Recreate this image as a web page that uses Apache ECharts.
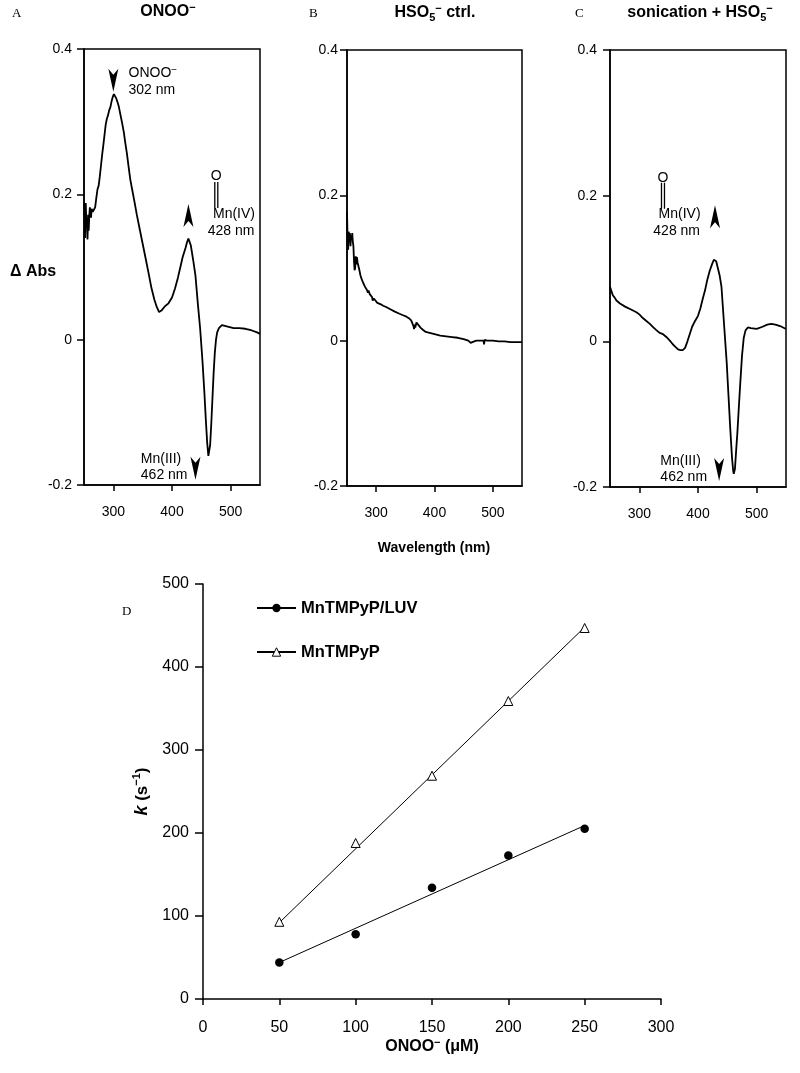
<!DOCTYPE html>
<html><head><meta charset="utf-8">
<script src="https://cdn.jsdelivr.net/npm/echarts@6/dist/echarts.min.js"></script>
<style>html,body{margin:0;padding:0;background:#fff}#c{width:800px;height:1073px}</style>
</head><body><div id="c"></div><script>
const FF = '"Liberation Sans", Arial, Helvetica, sans-serif';
const SERIF = '"Liberation Serif", "Times New Roman", serif';

// Panel A: ONOO- difference spectrum [nm, dAbs]
const specA = [[250,0.19],[251,0.176],[252,0.14],[253,0.188],[254,0.16],[255,0.165],[256,0.138],[257,0.172],[258,0.15],[259,0.17],[260,0.182],[262,0.168],[263,0.18],[265,0.176],[267,0.178],[269,0.182],[271,0.195],[273,0.207],[275,0.212],[277,0.225],[279,0.24],[281,0.255],[283,0.268],[285,0.282],[287,0.296],[289,0.304],[291,0.309],[293,0.316],[295,0.32],[297,0.328],[299,0.334],[301,0.338],[303,0.338],[305,0.332],[307,0.327],[309,0.322],[312,0.31],[315,0.298],[318,0.285],[320,0.273],[323,0.257],[326,0.238],[329,0.22],[332,0.207],[336,0.19],[340,0.172],[345,0.152],[350,0.132],[355,0.112],[360,0.092],[365,0.071],[370,0.055],[374,0.045],[378,0.038],[382,0.04],[388,0.046],[394,0.05],[400,0.058],[405,0.07],[410,0.085],[414,0.099],[418,0.113],[423,0.126],[426,0.135],[428,0.139],[432,0.13],[436,0.11],[440,0.088],[444,0.05],[448,0.015],[452,-0.03],[455,-0.07],[458,-0.115],[460,-0.142],[462,-0.16],[463,-0.162],[465,-0.145],[467,-0.115],[469,-0.08],[471,-0.045],[473,-0.018],[475,0.0],[477,0.01],[480,0.016],[485,0.02],[495,0.018],[505,0.016],[515,0.016],[525,0.015],[535,0.013],[545,0.01],[550,0.008]];

// Panel B: HSO5- control
const specB = [[250,0.177],[251,0.14],[252,0.125],[253,0.15],[254,0.135],[255,0.148],[256,0.13],[257,0.145],[258,0.14],[259,0.148],[260,0.136],[261,0.13],[262,0.11],[263,0.097],[264,0.1],[265,0.116],[266,0.105],[267,0.115],[268,0.108],[269,0.11],[271,0.098],[273,0.09],[275,0.085],[278,0.079],[281,0.074],[284,0.07],[286,0.066],[287,0.069],[289,0.064],[291,0.062],[293,0.06],[294,0.055],[296,0.058],[299,0.055],[302,0.052],[305,0.052],[308,0.05],[312,0.048],[318,0.046],[325,0.043],[332,0.04],[340,0.037],[346,0.035],[352,0.033],[356,0.031],[360,0.028],[362,0.026],[364,0.02],[365,0.016],[366,0.022],[367,0.018],[369,0.025],[372,0.022],[376,0.018],[380,0.015],[385,0.012],[390,0.011],[400,0.009],[410,0.007],[420,0.006],[430,0.005],[440,0.004],[450,0.002],[458,0.0],[462,-0.003],[465,-0.004],[468,-0.001],[472,0.0],[478,0.0],[484,0.0],[485,-0.005],[486,0.001],[490,0.0],[500,0.0],[510,-0.001],[520,-0.001],[530,-0.002],[540,-0.002],[550,-0.002]];

// Panel C: sonication + HSO5-
const specC = [[250,0.075],[252,0.07],[255,0.063],[258,0.06],[261,0.056],[264,0.054],[267,0.052],[270,0.05],[275,0.048],[280,0.046],[285,0.044],[290,0.042],[295,0.04],[300,0.037],[306,0.032],[312,0.028],[318,0.024],[323,0.02],[328,0.016],[334,0.012],[340,0.01],[346,0.006],[352,0.001],[357,-0.004],[362,-0.008],[366,-0.011],[370,-0.012],[374,-0.012],[378,-0.009],[382,0.0],[386,0.01],[390,0.02],[395,0.028],[400,0.035],[404,0.045],[408,0.058],[412,0.07],[416,0.085],[420,0.097],[424,0.106],[427,0.112],[429,0.113],[431,0.11],[434,0.1],[437,0.09],[440,0.075],[443,0.04],[446,0.005],[449,-0.03],[452,-0.075],[455,-0.12],[458,-0.16],[460,-0.178],[461,-0.182],[463,-0.175],[465,-0.15],[467,-0.127],[470,-0.085],[472,-0.058],[475,-0.02],[478,0.005],[481,0.015],[485,0.019],[490,0.018],[500,0.017],[510,0.02],[518,0.023],[525,0.024],[532,0.023],[540,0.021],[545,0.019],[550,0.017]];

const wlTicks = [300, 400, 500];

// Panel D: rate constants
const concLUV = [50, 100, 150, 200, 250];
const kLUV = [44, 78, 134, 173, 205];
const concFree = [50, 100, 150, 200, 250];
const kFree = [93, 188, 269, 359, 447];
const fitLUV = [[50, 44], [250, 209]];
const fitFree = [[50, 92], [250, 448]];

// Annotations (data coordinates)
const annA = [
  {kind:'down', at:[300,0.357]},
  {kind:'text', at:[325,0.367], text:'ONOO{s|−}'},
  {kind:'text', at:[325,0.344], text:'302 nm'},
  {kind:'O', at:[475.5,0.225]},
  {kind:'bond', at:[475.5,0.199]},
  {kind:'up', at:[428,0.171]},
  {kind:'text', at:[469,0.173], text:'Mn(IV)'},
  {kind:'text', at:[460,0.149], text:'428 nm'},
  {kind:'text', at:[346,-0.164], text:'Mn(III)'},
  {kind:'text', at:[346,-0.186], text:'462 nm'},
  {kind:'down', at:[440,-0.177]}
];
const annC = [
  {kind:'O', at:[340.3,0.224]},
  {kind:'bond', at:[340.3,0.2]},
  {kind:'up', at:[429,0.171]},
  {kind:'text', at:[332,0.174], text:'Mn(IV)'},
  {kind:'text', at:[323,0.151], text:'428 nm'},
  {kind:'text', at:[335,-0.164], text:'Mn(III)'},
  {kind:'text', at:[335,-0.186], text:'462 nm'},
  {kind:'down', at:[436,-0.176]}
];

function markPoints(list){
  const lbl = {color:'#000', fontSize:14, fontFamily:FF, rich:{s:{fontSize:10, verticalAlign:'top', lineHeight:10, fontFamily:FF, color:'#000'}}};
  return list.map(a => {
    if (a.kind === 'down') return {coord:a.at, symbol:'path://M0 0 L5 6 L10 0 L5 23 Z', symbolSize:[10,23], itemStyle:{color:'#000'}, label:{show:false}};
    if (a.kind === 'up') return {coord:a.at, symbol:'path://M5 0 L10 23 L5 17 L0 23 Z', symbolSize:[10,23], itemStyle:{color:'#000'}, label:{show:false}};
    if (a.kind === 'bond') return {coord:a.at, symbol:'path://M0 0 L1.3 0 L1.3 10 L0 10 Z M3 0 L4.3 0 L4.3 10 L3 10 Z', symbolSize:[4.3,26], itemStyle:{color:'#000'}, label:{show:false}};
    if (a.kind === 'O') return {coord:a.at, symbol:'circle', symbolSize:1, itemStyle:{color:'rgba(0,0,0,0)'}, label:Object.assign({show:true, position:'inside', formatter:'O'}, lbl)};
    return {coord:a.at, symbol:'circle', symbolSize:1, itemStyle:{color:'rgba(0,0,0,0)'}, label:Object.assign({show:true, position:'right', distance:0, formatter:a.text, lineHeight:16}, lbl)};
  });
}

const axLine = {show:true, onZero:false, lineStyle:{color:'#000', width:1.5}};
const axTick = (len) => ({show:true, inside:false, length:len, lineStyle:{color:'#000', width:1.5}});

function specX(i){
  return {gridIndex:i, type:'value', min:250, max:550, axisLine:axLine,
    axisTick:Object.assign(axTick(6), {customValues:wlTicks}),
    axisLabel:{customValues:wlTicks, margin:20, fontSize:14, color:'#000', fontFamily:FF},
    splitLine:{show:false}};
}
function specY(i, margin){
  return {gridIndex:i, type:'value', min:-0.2, max:0.4, interval:0.2, axisLine:axLine, axisTick:axTick(7),
    axisLabel:{margin:margin, fontSize:14, color:'#000', fontFamily:FF, formatter:v => Math.abs(v) < 1e-9 ? '0' : v.toFixed(1)},
    splitLine:{show:false}};
}
function specSeries(i, data, ann){
  const s = {type:'line', xAxisIndex:i, yAxisIndex:i, data:data, showSymbol:false, symbol:'none', silent:true,
    lineStyle:{color:'#000', width:1.8}, itemStyle:{color:'#000'}, z:3};
  if (ann) s.markPoint = {silent:true, data:markPoints(ann), animation:false};
  return s;
}

const boxGrid = {show:true, borderColor:'#000', borderWidth:1.5, backgroundColor:'transparent'};

const titleRich = {
  b:{fontSize:16, fontWeight:'bold', fontFamily:FF, lineHeight:20, fill:'#000', color:'#000'},
  sup:{fontSize:11, fontWeight:'bold', fontFamily:FF, verticalAlign:'top', lineHeight:11, color:'#000'},
  sub:{fontSize:11, fontWeight:'bold', fontFamily:FF, verticalAlign:'bottom', lineHeight:11, color:'#000'}
};
function gText(x, y, text, font, align, rich){
  const st = {text:text, font:font, fill:'#000', align:align || 'left', verticalAlign:'middle'};
  if (rich) st.rich = rich;
  return {type:'text', x:x, y:y, silent:true, style:st};
}

const option = {
  animation:false,
  backgroundColor:'#fff',
  grid:[
    Object.assign({left:84, top:49, width:176, height:436}, boxGrid),
    Object.assign({left:347, top:50, width:175, height:436}, boxGrid),
    Object.assign({left:610, top:50, width:176, height:437}, boxGrid),
    {left:203, top:584, width:458, height:415, show:false}
  ],
  xAxis:[specX(0), specX(1), specX(2),
    {gridIndex:3, type:'value', min:0, max:300, interval:50, axisLine:axLine, axisTick:axTick(6),
     axisLabel:{margin:21, fontSize:16, color:'#000', fontFamily:FF}, splitLine:{show:false},
     name:'{n|ONOO}{sup|−}{n| (μM)}', nameLocation:'middle', nameGap:38,
     nameTextStyle:{rich:{n:{fontSize:16, fontWeight:'bold', fontFamily:FF, color:'#000', lineHeight:20}, sup:{fontSize:11, fontWeight:'bold', fontFamily:FF, color:'#000', verticalAlign:'top', lineHeight:11}}}}
  ],
  yAxis:[specY(0, 12), specY(1, 9), specY(2, 13),
    {gridIndex:3, type:'value', min:0, max:500, interval:100, axisLine:axLine, axisTick:axTick(8),
     axisLabel:{margin:14, fontSize:16, color:'#000', fontFamily:FF}, splitLine:{show:false},
     name:'{i|k}{n| (s}{sup|−1}{n|)}', nameLocation:'middle', nameRotate:90, nameGap:33,
     nameTextStyle:{rich:{i:{fontSize:18, fontStyle:'italic', fontWeight:'bold', fontFamily:FF, color:'#000', lineHeight:22},
       n:{fontSize:17, fontWeight:'bold', fontFamily:FF, color:'#000', lineHeight:22},
       sup:{fontSize:11, fontWeight:'bold', fontFamily:FF, color:'#000', verticalAlign:'top', lineHeight:11}}}}
  ],
  legend:{
    data:['MnTMPyP/LUV','MnTMPyP'], orient:'vertical', left:251, top:594,
    itemWidth:39, itemHeight:10.5, itemGap:26, selectedMode:false,
    itemStyle:{borderWidth:1},
    textStyle:{fontSize:16.5, fontWeight:'bold', fontFamily:FF, color:'#000', lineHeight:18}
  },
  series:[
    specSeries(0, specA, annA),
    specSeries(1, specB, null),
    specSeries(2, specC, annC),
    {name:'MnTMPyP/LUV', type:'line', xAxisIndex:3, yAxisIndex:3, symbol:'circle', symbolSize:8,
     data:fitLUV.map(p => ({value:p, symbol:'none'})), lineStyle:{color:'#000', width:1}, itemStyle:{color:'#000'}, silent:true},
    {name:'MnTMPyP', type:'line', xAxisIndex:3, yAxisIndex:3, symbol:'triangle', symbolSize:9,
     data:fitFree.map(p => ({value:p, symbol:'none'})), lineStyle:{color:'#000', width:1}, itemStyle:{color:'#fff', borderColor:'#000', borderWidth:1}, silent:true},
    {name:'LUV points', type:'scatter', xAxisIndex:3, yAxisIndex:3, symbol:'circle', symbolSize:8.5,
     data:concLUV.map((c, i) => [c, kLUV[i]]), itemStyle:{color:'#000', opacity:1}, silent:true, z:4},
    {name:'free points', type:'scatter', xAxisIndex:3, yAxisIndex:3, symbol:'triangle', symbolSize:9,
     data:concFree.map((c, i) => [c, kFree[i]]), itemStyle:{color:'#fff', borderColor:'#000', borderWidth:1, opacity:1}, silent:true, z:4}
  ],
  graphic:[
    gText(12, 14, 'A', '13px ' + SERIF),
    gText(168, 12, '{b|ONOO}{sup|−}', 'bold 16px ' + FF, 'center', titleRich),
    gText(309, 14, 'B', '13px ' + SERIF),
    gText(435, 13, '{b|HSO}{sub|5}{sup|−}{b| ctrl.}', 'bold 16px ' + FF, 'center', titleRich),
    gText(575, 14, 'C', '13px ' + SERIF),
    gText(700, 13, '{b|sonication + HSO}{sub|5}{sup|−}', 'bold 16px ' + FF, 'center', titleRich),
    gText(10, 272, 'Δ Abs', 'bold 16px ' + FF, 'left'),
    gText(434, 548, 'Wavelength (nm)', 'bold 14px ' + FF, 'center'),
    gText(122, 612, 'D', '13px ' + SERIF)
  ]
};

const chart = echarts.init(document.getElementById('c'), null, {renderer:'canvas'});
chart.setOption(option);
</script></body></html>
